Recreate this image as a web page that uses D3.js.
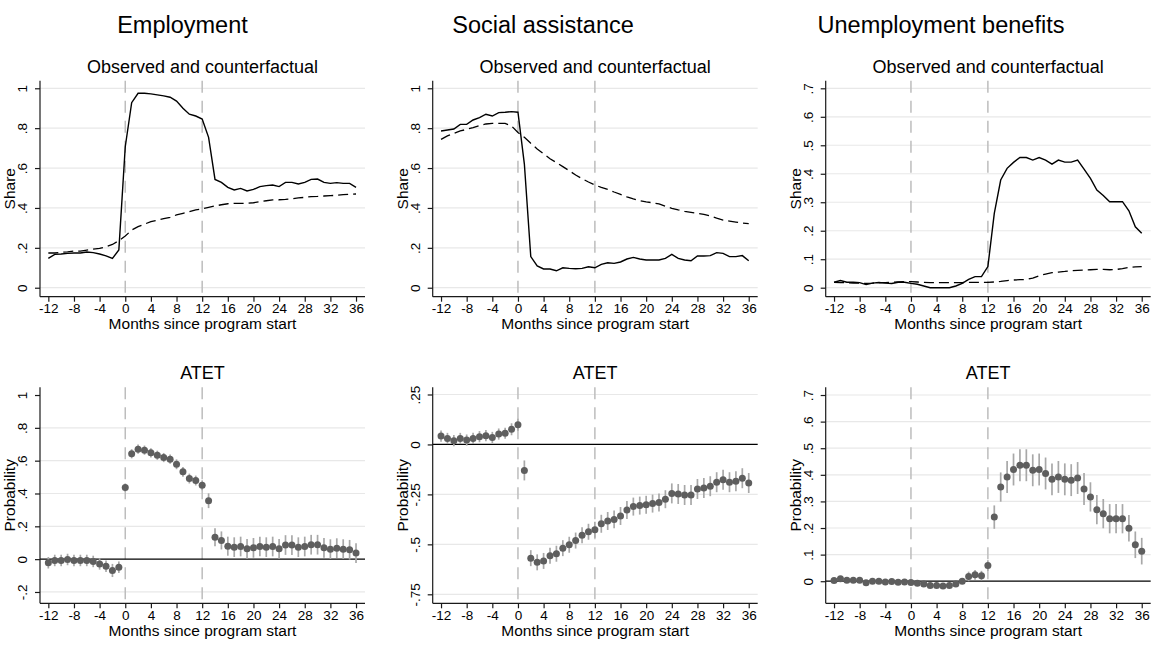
<!DOCTYPE html>
<meta charset="utf-8">
<style>
body { margin: 0; background: #fff; }
svg { display: block; background: #fff; font-family: "Liberation Sans", Arial, sans-serif; }
.grid { stroke: #e8e8e8; stroke-width: 1.2px; }
.axis { stroke: #1a1a1a; stroke-width: 1.2px; fill: none; }
.vline { stroke: #bdbdbd; stroke-width: 1.5px; stroke-dasharray: 12,8; }
.zero { stroke: #000; stroke-width: 1.2px; }
.obs { fill: none; stroke: #000; stroke-width: 1.4px; }
.cf { fill: none; stroke: #000; stroke-width: 1.3px; stroke-dasharray: 10,5; }
.ci { stroke: #a8a8a8; stroke-width: 1.7px; }
.dot { fill: #5e5e5e; }
</style>
<body>
<script src="https://cdn.jsdelivr.net/npm/d3@7/dist/d3.min.js"></script>
<script>
var width = 1159, height = 671;

// months since program start
var months = [-12,-11,-10,-9,-8,-7,-6,-5,-4,-3,-2,-1,0,1,2,3,4,5,6,7,8,9,10,11,12,
  13,14,15,16,17,18,19,20,21,22,23,24,25,26,27,28,29,30,31,32,33,34,35,36];
var xTicks = [-12,-8,-4,0,4,8,12,16,20,24,28,32,36];
var programLines = [0, 12];

var columns = ["Employment", "Social assistance", "Unemployment benefits"];

// observed / counterfactual shares
var empObs = [.147,.167,.169,.172,.174,.174,.179,.176,.169,.16,.147,.189,.707,.928,.975,.975,.972,.967,.962,.955,.936,.9,.87,.861,.846,
  .754,.543,.528,.503,.49,.498,.485,.493,.507,.512,.515,.507,.528,.528,.52,.528,.543,.545,.528,.523,.527,.523,.523,.503];
var empCf = [.174,.174,.177,.18,.184,.184,.189,.194,.197,.206,.217,.236,.259,.289,.306,.319,.331,.339,.346,.353,.365,.373,.381,.39,.396,
  .403,.41,.416,.421,.423,.423,.423,.426,.431,.436,.44,.441,.443,.446,.45,.453,.457,.458,.46,.462,.463,.467,.468,.47];
var saObs = [.786,.791,.796,.819,.819,.841,.853,.87,.861,.878,.88,.883,.88,.62,.156,.109,.094,.094,.085,.1,.097,.095,.097,.105,.1,
  .117,.125,.122,.129,.144,.152,.144,.139,.139,.139,.147,.167,.147,.139,.135,.159,.159,.161,.176,.172,.156,.156,.161,.135];
var saCf = [.744,.761,.774,.786,.794,.803,.813,.821,.824,.824,.824,.811,.778,.754,.724,.696,.671,.647,.627,.607,.587,.565,.547,.53,.515,
  .503,.493,.48,.468,.455,.445,.436,.43,.426,.42,.408,.398,.39,.383,.378,.373,.368,.36,.349,.339,.334,.329,.324,.321];
var ubObs = [.019,.025,.019,.019,.018,.011,.016,.018,.016,.015,.019,.019,.015,.012,.006,0,0,0,0,.006,.015,.029,.039,.039,.074,
  .261,.378,.419,.44,.457,.457,.448,.457,.448,.434,.448,.441,.441,.448,.416,.384,.343,.324,.302,.302,.302,.27,.214,.191];
var ubCf = [.019,.018,.018,.016,.016,.015,.016,.018,.018,.019,.02,.021,.021,.02,.019,.018,.018,.018,.018,.018,.018,.019,.019,.019,.019,
  .02,.022,.025,.027,.028,.029,.034,.042,.048,.053,.055,.057,.06,.061,.062,.063,.064,.064,.063,.064,.067,.071,.073,.074];

// ATET estimates and CI half-widths
var empAtet = [-.022,-.008,-.008,-.002,-.008,-.008,-.008,-.014,-.029,-.043,-.069,-.049,.436,.642,.67,.664,.648,.633,.619,.609,.578,.532,.491,.479,.45,
  .356,.134,.114,.079,.073,.077,.063,.069,.077,.073,.077,.063,.086,.086,.073,.077,.088,.088,.069,.061,.067,.061,.057,.037];
var empHw = [.035,.035,.035,.035,.035,.035,.035,.035,.035,.035,.04,.035,.025,.028,.028,.028,.028,.028,.028,.028,.03,.03,.03,.03,.03,
  .045,.055,.055,.058,.06,.06,.06,.06,.06,.06,.06,.06,.06,.06,.06,.06,.06,.06,.06,.06,.06,.06,.06,.06];
var saAtet = [.042,.03,.019,.03,.022,.03,.039,.044,.035,.052,.056,.076,.098,-.13,-.569,-.59,-.583,-.557,-.547,-.519,-.502,-.481,-.454,-.437,-.427,
  -.397,-.383,-.375,-.358,-.328,-.311,-.306,-.302,-.296,-.291,-.274,-.245,-.248,-.253,-.253,-.223,-.218,-.209,-.189,-.177,-.189,-.184,-.169,-.193];
var saHw = [.028,.028,.028,.028,.028,.028,.028,.028,.028,.028,.028,.03,.03,.05,.04,.04,.04,.04,.04,.04,.04,.04,.04,.04,.04,
  .045,.045,.045,.045,.045,.045,.045,.045,.045,.045,.045,.05,.05,.05,.05,.05,.05,.05,.05,.05,.05,.05,.05,.05];
var ubAtet = [.003,.009,.004,.004,.004,-.006,0,0,-.003,-.001,-.004,-.003,-.005,-.008,-.01,-.016,-.016,-.018,-.016,-.01,0,.018,.024,.021,.059,
  .241,.354,.392,.42,.436,.436,.417,.42,.405,.383,.392,.383,.38,.388,.347,.317,.269,.254,.235,.235,.235,.199,.137,.113];
var ubHw = [.008,.008,.008,.008,.008,.008,.008,.008,.008,.008,.008,.008,.008,.008,.008,.008,.008,.008,.008,.008,.01,.018,.018,.018,.02,
  .044,.055,.06,.06,.06,.06,.06,.06,.06,.06,.06,.06,.06,.06,.06,.055,.055,.055,.055,.055,.055,.05,.05,.05];

var shareTicks = [0,.2,.4,.6,.8,1];
var ubShareTicks = [0,.1,.2,.3,.4,.5,.6,.7];
var empAtetTicks = [-.2,0,.2,.4,.6,.8,1];
var saAtetTicks = [-.75,-.5,-.25,0,.25];
var ubAtetTicks = [0,.1,.2,.3,.4,.5,.6,.7];

var svg = d3.select("body").append("svg")
    .attr("width", width)
    .attr("height", height);

var colLeft = [40, 432.7, 825.7];
var titleX = [182.5, 543, 941];
var rowTop = [80.7, 387.3];
var pw = 325, ph = 216;

var panels = [
  {col: 0, row: 0, sub: "Observed and counterfactual", ylab: "Share", dom: [-0.045, 1.038], ticks: shareTicks, grid: shareTicks, obs: empObs, cf: empCf},
  {col: 1, row: 0, sub: "Observed and counterfactual", ylab: "Share", dom: [-0.045, 1.038], ticks: shareTicks, grid: shareTicks, obs: saObs, cf: saCf},
  {col: 2, row: 0, sub: "Observed and counterfactual", ylab: "Share", dom: [-0.0316, 0.7267], ticks: ubShareTicks, grid: ubShareTicks, obs: ubObs, cf: ubCf},
  {col: 0, row: 1, sub: "ATET", ylab: "Probability", dom: [-0.269, 1.047], ticks: empAtetTicks, grid: [-.2,.2,.4,.6,.8], est: empAtet, hw: empHw},
  {col: 1, row: 1, sub: "ATET", ylab: "Probability", dom: [-0.795, 0.286], ticks: saAtetTicks, grid: [-.75,-.5,-.25,.25], est: saAtet, hw: saHw},
  {col: 2, row: 1, sub: "ATET", ylab: "Probability", dom: [-0.083, 0.729], ticks: ubAtetTicks, grid: ubAtetTicks.slice(1), est: ubAtet, hw: ubHw}
];

// stata style labels: no leading zero, plain hyphen
function fmt(v) {
  var s = String(+v.toFixed(2));
  return s.replace("0.", ".");
}

columns.forEach(function(c, i) {
  svg.append("text")
    .attr("x", titleX[i]).attr("y", 33)
    .attr("text-anchor", "middle")
    .style("font-size", "23.5px")
    .text(c);
});

panels.forEach(function(p) {
  var left = colLeft[p.col], top = rowTop[p.row];
  var x = d3.scaleLinear().domain([-13.3, 37.4]).range([left, left + pw]);
  var y = d3.scaleLinear().domain(p.dom).range([top + ph, top]);
  var g = svg.append("g");

  g.selectAll(".grid").data(p.grid).enter().append("line")
    .attr("class", "grid")
    .attr("x1", left).attr("x2", left + pw)
    .attr("y1", function(d) { return y(d); })
    .attr("y2", function(d) { return y(d); });

  g.selectAll(".vline").data(programLines).enter().append("line")
    .attr("class", "vline")
    .attr("x1", function(d) { return x(d); })
    .attr("x2", function(d) { return x(d); })
    .attr("y1", top).attr("y2", top + ph);

  if (p.obs) {
    var line = d3.line()
      .x(function(d, i) { return x(months[i]); })
      .y(function(d) { return y(d); });
    g.append("path").datum(p.cf).attr("class", "cf").attr("d", line);
    g.append("path").datum(p.obs).attr("class", "obs").attr("d", line);
  } else {
    g.append("line").attr("class", "zero")
      .attr("x1", left).attr("x2", left + pw)
      .attr("y1", y(0)).attr("y2", y(0));
    g.selectAll(".ci").data(p.est).enter().append("line")
      .attr("class", "ci")
      .attr("x1", function(d, i) { return x(months[i]); })
      .attr("x2", function(d, i) { return x(months[i]); })
      .attr("y1", function(d, i) { return y(d - p.hw[i]); })
      .attr("y2", function(d, i) { return y(d + p.hw[i]); });
    g.selectAll(".dot").data(p.est).enter().append("circle")
      .attr("class", "dot")
      .attr("cx", function(d, i) { return x(months[i]); })
      .attr("cy", function(d) { return y(d); })
      .attr("r", 3.5);
  }

  // axes
  var yAxis = d3.axisLeft(y).tickValues(p.ticks).tickSize(5).tickFormat(fmt);
  var ya = g.append("g").attr("transform", "translate(" + left + ",0)").call(yAxis);
  ya.select(".domain").attr("d", "M0," + top + "V" + (top + ph)).attr("stroke", "#1a1a1a").attr("stroke-width", 1.2);
  ya.selectAll(".tick line").attr("stroke", "#1a1a1a").attr("stroke-width", 1.2);
  ya.selectAll(".tick text")
    .attr("x", null).attr("dy", null)
    .attr("transform", "translate(-13,0) rotate(-90)")
    .attr("text-anchor", "middle")
    .attr("fill", "#000")
    .style("font-size", "13.5px")
    .style("font-family", "Liberation Sans, Arial, sans-serif");

  var xAxis = d3.axisBottom(x).tickValues(xTicks).tickSize(5).tickFormat(function(d) { return String(d); });
  var xa = g.append("g").attr("transform", "translate(0," + (top + ph) + ")").call(xAxis);
  xa.select(".domain").attr("d", "M" + left + ",0H" + (left + pw)).attr("stroke", "#1a1a1a").attr("stroke-width", 1.2);
  xa.selectAll(".tick line").attr("stroke", "#1a1a1a").attr("stroke-width", 1.2);
  xa.selectAll(".tick text")
    .attr("y", 16.6).attr("dy", null)
    .attr("fill", "#000")
    .style("font-size", "13.5px")
    .style("font-family", "Liberation Sans, Arial, sans-serif");

  svg.append("text")
    .attr("x", left + pw / 2).attr("y", top + ph + 32.3)
    .attr("text-anchor", "middle")
    .style("font-size", "15.5px")
    .text("Months since program start");

  svg.append("text")
    .attr("transform", "translate(" + (left - 25) + "," + (top + ph / 2) + ") rotate(-90)")
    .attr("text-anchor", "middle")
    .style("font-size", "15.5px")
    .text(p.ylab);

  svg.append("text")
    .attr("x", left + pw / 2).attr("y", top - 8.2)
    .attr("text-anchor", "middle")
    .style("font-size", "18px")
    .text(p.sub);
});
</script>
</body>
